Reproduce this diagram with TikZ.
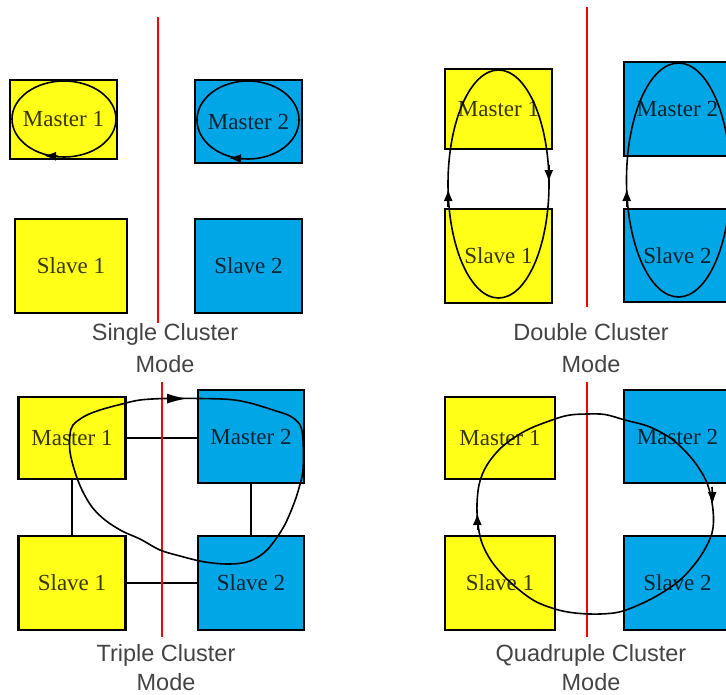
\documentclass[tikz,border=0pt]{standalone}
\usepackage{fontspec}
\setmainfont{Liberation Serif}
\setsansfont{Liberation Sans}
\usetikzlibrary{arrows.meta}
\definecolor{unitA}{RGB}{255,255,24}
\definecolor{unitB}{RGB}{0,166,230}
\definecolor{captiongray}{RGB}{68,68,68}
\begin{document}
\begin{tikzpicture}[x=1pt,y=-1pt,
  unit/.style={draw=black, line width=2.8pt, inner sep=0pt,
    font=\fontsize{23}{26}\selectfont, text=black, text opacity=0.78},
  ua/.style={unit, fill=unitA},
  ub/.style={unit, fill=unitB},
  ring/.style={line width=1.6pt},
  tip/.style={line width=1.6pt, -{Latex[length=12pt,width=9pt]}},
  longtip/.style={line width=1.6pt, -{Latex[length=20pt,width=10pt]}},
  link/.style={line width=1.6pt},
  divider/.style={red, line width=2.6pt},
  capt/.style={font=\sffamily\fontsize{23.5}{28}\selectfont, text=captiongray,
    anchor=base, inner sep=0pt}]
\useasboundingbox (0,0) rectangle (726,694);
\clip (0,0) rectangle (726,694);

% ---------- single cluster mode ----------
\draw[divider] (158,17) -- (158,323);
\node[ua, minimum width=107pt, minimum height=79pt] (am1) at (63.5,119.5) {Master 1};
\node[ub, minimum width=107pt, minimum height=83pt] (am2) at (248.5,121.5) {Master 2};
\node[ua, minimum width=112pt, minimum height=94pt] (as1) at (71,266) {Slave 1};
\node[ub, minimum width=107pt, minimum height=94pt] (as2) at (248.5,266) {Slave 2};
\draw[ring] (64,119) ellipse [x radius=52pt, y radius=38pt];
\draw[ring] (248,120) ellipse [x radius=51pt, y radius=39pt];
\draw[tip] (58,156.3) -- (44,155.6);
\draw[tip] (242,158.6) -- (229,158);
\node[capt] (acap1) at (165,340) {Single Cluster};
\node[capt] (acap2) at (165,372) {Mode};

% ---------- double cluster mode ----------
\draw[divider] (587,7) -- (587,307);
\node[ua, minimum width=107pt, minimum height=80pt] (bm1) at (498.5,109) {Master 1};
\node[ua, minimum width=107pt, minimum height=94pt] (bs1) at (498.5,256) {Slave 1};
\node[ub, minimum width=107pt, minimum height=94pt] (bm2) at (677.5,109) {Master 2};
\node[ub, minimum width=107pt, minimum height=93pt] (bs2) at (677.5,255.5) {Slave 2};
\draw[ring] (498.5,184) ellipse [x radius=50.5pt, y radius=114pt];
\draw[ring] (678.5,180) ellipse [x radius=52pt, y radius=117pt];
\draw[tip] (448.2,207) -- (448.2,189);
\draw[tip] (548.8,165) -- (548.8,182);
\draw[tip] (626.7,207) -- (626.7,189);
\draw[tip] (730.3,165) -- (730.3,182);
\node[capt] (bcap1) at (591,340) {Double Cluster};
\node[capt] (bcap2) at (591,372) {Mode};

% ---------- triple cluster mode ----------
\node[ua, minimum width=107pt, minimum height=82pt] (cm1) at (72,438) {Master 1};
\node[ub, minimum width=106pt, minimum height=93pt] (cm2) at (251,436.5) {Master 2};
\node[ua, minimum width=107pt, minimum height=94pt] (cs1) at (72,583) {Slave 1};
\node[ub, minimum width=106pt, minimum height=94pt] (cs2) at (251,583) {Slave 2};
\draw[link] (cm1.east) -- (cm1.east -| cm2.west);
\draw[link] (cs1.east) -- (cs1.east -| cs2.west);
\draw[link] (cm1.south) -- (cm1.south |- cs1.north);
\draw[link] (cm2.south) -- (cm2.south |- cs2.north);
\draw[divider] (162,382) -- (162,637);
\draw[ring] plot[smooth cycle, tension=0.55] coordinates {
  (73,425) (85,416) (100,410) (122,404) (140,400) (165,398.5) (200,398.5)
  (230,399.5) (250,403) (273,410) (290,416) (300,425) (303,440) (303,470)
  (299,488) (293,506) (283,528) (267,550) (250,561) (230,564) (205,562)
  (180,556) (160,550) (140,539) (122,531) (105,520) (92,507) (82,490)
  (75,472) (70,452) (70,435)};
\draw[longtip] (162,398.6) -- (187,398.6);
\node[capt] (ccap1) at (166,661) {Triple Cluster};
\node[capt] (ccap2) at (166,690) {Mode};

% ---------- quadruple cluster mode ----------
\node[ua, minimum width=110pt, minimum height=82pt] (dm1) at (500,438) {Master 1};
\node[ua, minimum width=110pt, minimum height=94pt] (ds1) at (500,583) {Slave 1};
\node[ub, minimum width=107pt, minimum height=93pt] (dm2) at (677.5,436.5) {Master 2};
\node[ub, minimum width=107pt, minimum height=94pt] (ds2) at (677.5,583) {Slave 2};
\draw[divider] (587,382) -- (587,637);
\draw[ring] plot[smooth cycle, tension=0.55] coordinates {
  (587,414) (605,414.5) (625,420) (650,427) (673,440) (693,460) (707,483)
  (713,510) (712,533) (700,557) (680,580) (653,598) (623,611) (600,614)
  (575,613) (555,609) (533,600) (510,582) (492,562) (481,540) (477,512)
  (479,485) (487,465) (503,446) (527,430) (555,419) (570,415)};
\draw[tip] (477.3,530) -- (477.3,513);
\draw[tip] (712,487) -- (712.6,504);
\node[capt] (dcap1) at (591,661) {Quadruple Cluster};
\node[capt] (dcap2) at (591,690) {Mode};
\end{tikzpicture}
\end{document}
